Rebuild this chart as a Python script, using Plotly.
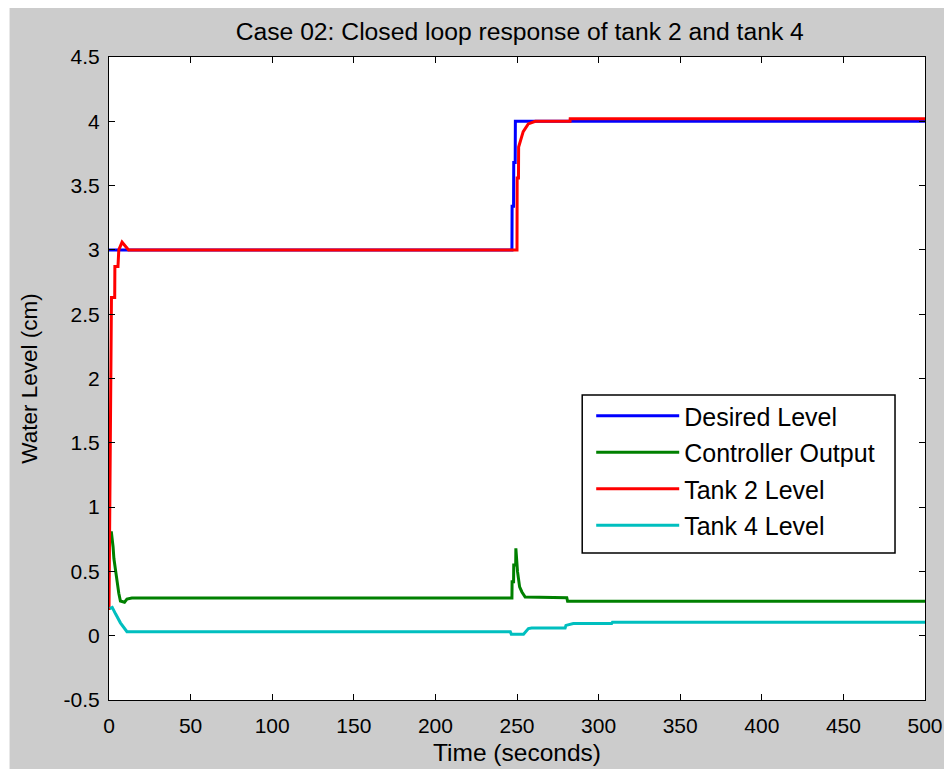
import plotly.graph_objects as go

# ---- data ----
desired_t = [0, 246.9, 247.0, 247.9, 248.0, 248.9, 249.0, 500]
desired_y = [3.0, 3.0, 3.34, 3.34, 3.68, 3.68, 4.0, 4.0]

ctrl_t = [0.8, 1.5, 2.5, 3.0, 4.0, 5.0, 6.0, 7.0, 9.5, 11.0, 14.0, 246.9, 247.0, 247.9, 248.0, 249.2, 249.3,
          250.3, 251.6, 253.0, 255.0, 280.5, 281.0, 500]
ctrl_y = [0.80, 0.80, 0.69, 0.60, 0.51, 0.40, 0.33, 0.27, 0.26, 0.285, 0.293, 0.293, 0.42, 0.42, 0.55, 0.55, 0.68,
          0.50, 0.38, 0.34, 0.30, 0.295, 0.267, 0.267]

tank2_t = [0, 0.5, 1.0, 1.5, 3.5, 3.6, 5.5, 6.0, 8.0, 10.0, 12.0, 250.0, 250.1, 250.9, 251.0, 253.8, 256.9, 261.2,
           282.5, 282.6, 500]
tank2_y = [0.2, 1.0, 2.0, 2.63, 2.63, 2.87, 2.87, 3.0, 3.06, 3.03, 3.0, 3.0, 3.56, 3.56, 3.80, 3.92, 3.98, 4.0,
           4.0, 4.02, 4.02]

tank4_t = [0.5, 2.0, 4.0, 7.0, 11.0, 245.9, 246.5, 254.0, 257.0, 259.0, 279.5, 280.0, 284.5, 308.0, 308.5, 500]
tank4_y = [0.21, 0.22, 0.17, 0.10, 0.031, 0.031, 0.012, 0.012, 0.055, 0.06, 0.06, 0.08, 0.095, 0.095, 0.105, 0.105]

series_names = ["Desired Level", "Controller Output", "Tank 2 Level", "Tank 4 Level"]
series_colors = ["#0000ff", "#008000", "#ff0000", "#00bfbf"]

x_ticks = [0, 50, 100, 150, 200, 250, 300, 350, 400, 450, 500]
y_ticks = [-0.5, 0, 0.5, 1, 1.5, 2, 2.5, 3, 3.5, 4, 4.5]
y_ticktext = ["-0.5", "0", "0.5", "1", "1.5", "2", "2.5", "3", "3.5", "4", "4.5"]

title_text = "Case 02: Closed loop response of tank 2 and tank 4"
x_title = "Time (seconds)"
y_title = "Water Level (cm)"

# ---- figure ----
W, H = 944, 769
L, R, T, B = 108.5, 19, 57, 69
pw, ph = W - L - R, H - T - B


def px_x(px):
    return (px - L) / pw


def px_y(py):
    return (H - B - py) / ph


fig = go.Figure()
for i, ((tt, yy), name, col) in enumerate(zip(
        [(desired_t, desired_y), (ctrl_t, ctrl_y), (tank2_t, tank2_y), (tank4_t, tank4_y)],
        series_names, series_colors)):
    fig.add_trace(go.Scatter(x=tt, y=yy, mode="lines", name=name, legendgroup=f"g{i}",
                             line=dict(color=col, width=3)))

font_family = "Liberation Sans, Arial, sans-serif"

# white strips (top and left) outside the grey MATLAB window, as in the reference
fig.add_shape(type="rect", xref="paper", yref="paper", layer="below",
              x0=px_x(-5), x1=px_x(9), y0=px_y(780), y1=px_y(-5),
              fillcolor="white", line=dict(width=0))
fig.add_shape(type="rect", xref="paper", yref="paper", layer="below",
              x0=px_x(-5), x1=px_x(950), y0=px_y(8), y1=px_y(-5),
              fillcolor="white", line=dict(width=0))
# legend box
fig.add_shape(type="rect", xref="paper", yref="paper", layer="above",
              x0=px_x(582), x1=px_x(895), y0=px_y(553), y1=px_y(395),
              fillcolor="white", line=dict(color="black", width=1.5))

axis_common = dict(showgrid=False, zeroline=False, showline=True, linecolor="black", linewidth=1,
                   mirror="allticks", ticks="inside", ticklen=6, tickcolor="black", automargin=False,
                   tickfont=dict(family=font_family, size=21, color="black"))

fig.update_layout(
    width=W, height=H,
    margin=dict(l=L, r=R, t=T, b=B, autoexpand=False),
    paper_bgcolor="#cccccc",
    plot_bgcolor="white",
    font=dict(family=font_family, color="black"),
    title=dict(text=title_text, x=px_x(519.5), xref="paper", xanchor="center",
               y=1 - 31 / H, yanchor="middle", font=dict(size=24.7, color="black")),
    xaxis=dict(range=[0, 500], tickvals=x_ticks, ticklabelstandoff=7,
               title=dict(text=x_title, font=dict(size=24.5), standoff=7),
               **axis_common),
    yaxis=dict(range=[-0.5, 4.5], tickvals=y_ticks, ticktext=y_ticktext, ticklabelstandoff=4,
               title=dict(text=y_title, font=dict(size=22.5), standoff=19), **axis_common),
    legend=dict(x=px_x(591), y=px_y(393), xanchor="left", yanchor="top",
                bgcolor="rgba(0,0,0,0)", borderwidth=0,
                font=dict(size=25, color="black"), itemwidth=83, tracegroupgap=1),
    showlegend=True,
)

css_fix = (
    "var s=document.createElement('style');"
    "s.textContent='html,body{margin:0!important;padding:0!important;overflow:hidden!important;"
    "width:944px;height:769px;}';"
    "document.head.appendChild(s);"
)

fig.write_html("out.html", config={"displayModeBar": False}, post_script=css_fix)
